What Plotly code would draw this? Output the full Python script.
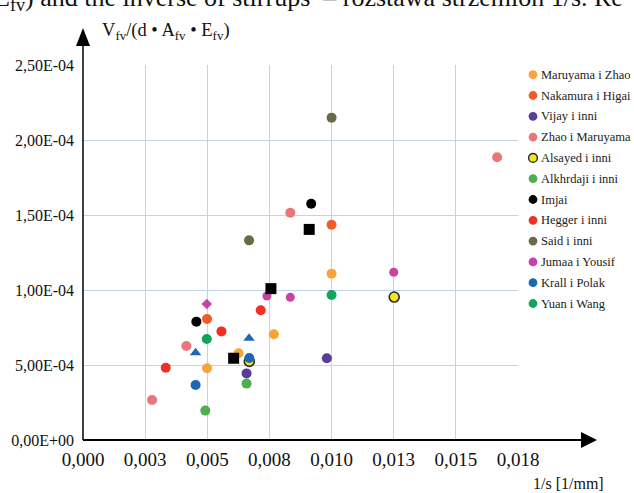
import plotly.graph_objects as go

# ---- data: shear ratio Vfv/(d*Afv*Efv) vs inverse stirrup spacing 1/s ----
series_names = [
    "Maruyama i Zhao", "Nakamura i Higai", "Vijay i inni", "Zhao i Maruyama",
    "Alsayed i inni", "Alkhrdaji i inni", "Imjai", "Hegger i inni",
    "Said i inni", "Jumaa i Yousif", "Krall i Polak", "Yuan i Wang",
]

maruyama_zhao_x = [0.00768, 0.00626, 0.00499, 0.0100]
maruyama_zhao_y = [7.05e-5, 5.78e-5, 4.78e-5, 1.109e-4]

nakamura_higai_x = [0.00499, 0.0100]
nakamura_higai_y = [8.07e-5, 1.435e-4]

vijay_x = [0.00658, 0.00981]
vijay_y = [4.44e-5, 5.45e-5]

zhao_maruyama_x = [0.00416, 0.00278, 0.00834, 0.01666]
zhao_maruyama_y = [6.27e-5, 2.67e-5, 1.515e-4, 1.885e-4]

alsayed_x = [0.00669, 0.01252]
alsayed_y = [5.24e-5, 9.53e-5]

alkhrdaji_x = [0.00658, 0.00492]
alkhrdaji_y = [3.76e-5, 1.96e-5]

imjai_x = [0.00456, 0.00918, 0.00756, 0.00606, 0.00910]
imjai_y = [7.89e-5, 1.575e-4, 1.009e-4, 5.45e-5, 1.404e-4]

hegger_x = [0.00715, 0.00557, 0.00333]
hegger_y = [8.65e-5, 7.24e-5, 4.82e-5]

said_x = [0.00668, 0.0100]
said_y = [1.331e-4, 2.149e-4]

jumaa_x = [0.00740, 0.00834, 0.00498, 0.0125]
jumaa_y = [9.60e-5, 9.51e-5, 9.07e-5, 1.118e-4]

krall_x = [0.00453, 0.00668, 0.00669, 0.00453]
krall_y = [5.82e-5, 6.78e-5, 5.47e-5, 3.67e-5]

yuan_x = [0.00498, 0.0100]
yuan_y = [6.73e-5, 9.67e-5]

x_tickvals = [0, 0.0025, 0.005, 0.0075, 0.01, 0.0125, 0.015, 0.0175]
x_ticktext = ["0,000", "0,003", "0,005", "0,008", "0,010", "0,013", "0,015", "0,018"]
y_tickvals = [0, 5e-5, 1e-4, 1.5e-4, 2e-4, 2.5e-4]
y_ticktext = ["0,00E+00", "5,00E-04", "1,00E-04", "1,50E-04", "2,00E-04", "2,50E-04"]

# ---- styling ----
FONT = "Liberation Serif"
colors = {
    "Maruyama i Zhao": "#f9a33b",
    "Nakamura i Higai": "#f15a2b",
    "Vijay i inni": "#5a3c9c",
    "Zhao i Maruyama": "#e97779",
    "Alsayed i inni": "#f4e421",
    "Alkhrdaji i inni": "#4daf50",
    "Imjai": "#000000",
    "Hegger i inni": "#ee3026",
    "Said i inni": "#6a6a45",
    "Jumaa i Yousif": "#c843a8",
    "Krall i Polak": "#1e67b4",
    "Yuan i Wang": "#0fa65a",
}
symbols = {
    "Imjai": ["circle", "circle", "square", "square", "square"],
    "Jumaa i Yousif": ["circle", "circle", "diamond", "circle"],
    "Krall i Polak": ["triangle-up", "triangle-up", "circle", "circle"],
}
sizes = {
    "Imjai": [10, 10, 11, 11, 11],
    "Jumaa i Yousif": [9, 9, 8, 9],
    "Krall i Polak": [10, 10, 10, 10],
}

data = {
    "Maruyama i Zhao": (maruyama_zhao_x, maruyama_zhao_y),
    "Nakamura i Higai": (nakamura_higai_x, nakamura_higai_y),
    "Vijay i inni": (vijay_x, vijay_y),
    "Zhao i Maruyama": (zhao_maruyama_x, zhao_maruyama_y),
    "Alsayed i inni": (alsayed_x, alsayed_y),
    "Alkhrdaji i inni": (alkhrdaji_x, alkhrdaji_y),
    "Imjai": (imjai_x, imjai_y),
    "Hegger i inni": (hegger_x, hegger_y),
    "Said i inni": (said_x, said_y),
    "Jumaa i Yousif": (jumaa_x, jumaa_y),
    "Krall i Polak": (krall_x, krall_y),
    "Yuan i Wang": (yuan_x, yuan_y),
}

# Imjai squares sit on top of neighbouring points
draw_order = [n for n in series_names if n != "Imjai"] + ["Imjai"]

fig = go.Figure()
for name in draw_order:
    xs, ys = data[name]
    outline = "#2a2a2a" if name == "Alsayed i inni" else colors[name]
    fig.add_trace(go.Scatter(
        x=xs, y=ys, mode="markers", name=name, showlegend=False,
        cliponaxis=False,
        marker=dict(
            color=colors[name],
            opacity=1,
            symbol=symbols.get(name, "circle"),
            size=sizes.get(name, 10),
            line=dict(color=outline, width=1.6 if name == "Alsayed i inni" else 0),
        ),
    ))

# plot area in pixels
W, H = 634, 493
L, R, T, B = 83, 116, 65, 53
PW, PH = W - L - R, H - T - B


def px_x(px):
    return (px - L) / PW


def px_y(py):
    return (H - B - py) / PH


shapes = []
# axes with arrowheads
shapes.append(dict(type="line", xref="paper", yref="paper",
                   x0=px_x(83), x1=px_x(584), y0=0, y1=0,
                   line=dict(color="black", width=2)))
shapes.append(dict(type="line", xref="paper", yref="paper",
                   x0=0, x1=0, y0=0, y1=px_y(42),
                   line=dict(color="black", width=1.5)))
shapes.append(dict(type="path", xref="paper", yref="paper",
                   path=f"M {px_x(581)},{px_y(432)} L {px_x(597)},{px_y(440)} L {px_x(581)},{px_y(448)} Z",
                   fillcolor="black", line=dict(width=0)))
shapes.append(dict(type="path", xref="paper", yref="paper",
                   path=f"M {px_x(76)},{px_y(46)} L {px_x(83)},{px_y(28)} L {px_x(90)},{px_y(46)} Z",
                   fillcolor="black", line=dict(width=0)))

# legend key
annotations = []
leg_x, leg_y0, leg_dy = 533, 74.7, 20.8
for i, name in enumerate(series_names):
    cy = leg_y0 + i * leg_dy
    r = 4.4
    shapes.append(dict(type="circle", xref="paper", yref="paper",
                       x0=px_x(leg_x - r), x1=px_x(leg_x + r),
                       y0=px_y(cy + r), y1=px_y(cy - r),
                       fillcolor=colors[name],
                       line=dict(color="#2a2a2a" if name == "Alsayed i inni" else colors[name],
                                 width=1.4 if name == "Alsayed i inni" else 0)))
    annotations.append(dict(xref="paper", yref="paper", x=px_x(539), y=px_y(cy),
                            xanchor="left", yanchor="middle", showarrow=False,
                            text=name, font=dict(family=FONT, size=12.5, color="#222")))

# axis titles
annotations.append(dict(xref="paper", yref="paper", x=px_x(100), y=px_y(32),
                        xanchor="left", yanchor="middle", showarrow=False,
                        text="V<sub>fv</sub>/(d • A<sub>fv</sub> • E<sub>fv</sub>)",
                        font=dict(family=FONT, size=18.5, color="#111")))
annotations.append(dict(xref="paper", yref="paper", x=px_x(606), y=px_y(483),
                        xanchor="right", yanchor="middle", showarrow=False,
                        text="1/s [1/mm]",
                        font=dict(family=FONT, size=16, color="#111")))
# caption line running along the top edge
annotations.append(dict(xref="paper", yref="paper", x=px_x(-8), y=px_y(17),
                        xanchor="left", yanchor="bottom", showarrow=False,
                        text="E<sub>fv</sub>) and the inverse of stirrups  – rozstawa strzemion 1/s. Re",
                        font=dict(family=FONT, size=26, color="#111")))

fig.update_layout(
    width=W, height=H,
    margin=dict(l=L, r=R, t=T, b=B, pad=0),
    paper_bgcolor="white", plot_bgcolor="white",
    font=dict(family=FONT, color="#111"),
    shapes=shapes, annotations=annotations,
    xaxis=dict(range=[0, 0.0175], tickvals=x_tickvals, ticktext=x_ticktext,
               showgrid=True, gridcolor="#bfd6e8", gridwidth=1,
               zeroline=False, showline=False, ticks="",
               tickfont=dict(family=FONT, size=19, color="#111"),
               ticklabelstandoff=6, fixedrange=True),
    yaxis=dict(range=[0, 2.5e-4], tickvals=y_tickvals, ticktext=y_ticktext,
               showgrid=True, gridcolor="#bfd6e8", gridwidth=1,
               zeroline=False, showline=False, ticks="",
               tickfont=dict(family=FONT, size=16, color="#111"),
               ticklabelstandoff=8, fixedrange=True),
)

fig.write_html("out.html")
